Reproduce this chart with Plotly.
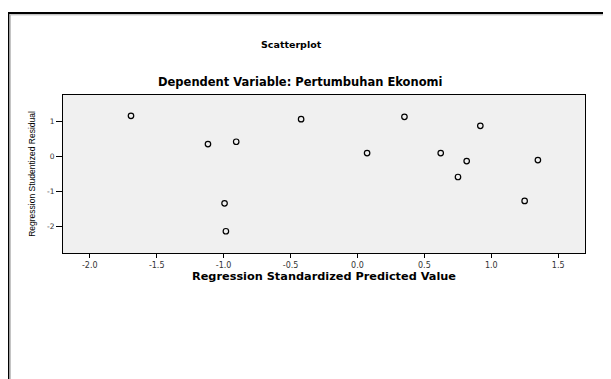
import plotly.graph_objects as go

predicted = [-1.692, -1.117, -0.906, -0.993, -0.983, -0.421, 0.351, 0.072, 0.622, 0.918, 0.816, 0.751, 1.348, 1.249]
residual = [1.156, 0.352, 0.418, -1.335, -2.13, 1.062, 1.128, 0.096, 0.096, 0.872, -0.131, -0.586, -0.103, -1.268]
x_ticks = [-2.0, -1.5, -1.0, -0.5, 0.0, 0.5, 1.0, 1.5]
y_ticks = [-2, -1, 0, 1]

W, H = 611, 379
OFF = 8  # page body margin offset
L, R, T, B = 63 - OFF, 585 - OFF, 95 - OFF, 253 - OFF

def px_x(p):
    return (p - OFF - L) / (R - L)

def px_y(p):
    return (B - (p - OFF)) / (B - T)

fig = go.Figure(go.Scatter(
    x=predicted, y=residual, mode="markers",
    marker=dict(symbol="circle-open", size=5.5, color="black", line=dict(width=1.2, color="black")),
    showlegend=False, hoverinfo="x+y",
))

wide = "DejaVu Sans, Verdana, sans-serif"
narrow = "Liberation Sans Narrow, Arial Narrow, sans-serif"

fig.update_layout(
    width=W, height=H,
    margin=dict(l=L, r=W - R, t=T, b=H - B),
    paper_bgcolor="white", plot_bgcolor="#f0f0f0",
    font=dict(family=wide, color="black"),
    xaxis=dict(range=[-2.2, 1.7], tickvals=x_ticks, ticktext=["%.1f" % v for v in x_ticks],
               ticks="outside", ticklen=4, tickwidth=1, tickcolor="black",
               tickfont=dict(size=8, color="#333", family=wide), showgrid=False, zeroline=False,
               showline=True, linecolor="black", linewidth=1, mirror=True,
               title=dict(text="<b>Regression Standardized Predicted Value</b>",
                          font=dict(size=11.3, family=wide), standoff=0)),
    yaxis=dict(range=[-2.75, 1.75], tickvals=y_ticks, ticktext=[str(v) for v in y_ticks],
               ticks="outside", ticklen=6, tickwidth=1, tickcolor="black",
               tickfont=dict(size=7.5, color="#333", family=wide), showgrid=False, zeroline=False,
               showline=True, linecolor="black", linewidth=1, mirror=True,
               title=dict(text="Regression Studentized Residual",
                          font=dict(size=8.5, family=narrow), standoff=10)),
    annotations=[
        dict(text="<b>Scatterplot</b>", x=px_x(291), y=px_y(44), xref="paper", yref="paper",
             showarrow=False, font=dict(size=9.5, family=wide), xanchor="center", yanchor="middle"),
        dict(text="<b>Dependent Variable: Pertumbuhan Ekonomi</b>", x=px_x(300), y=px_y(82),
             xref="paper", yref="paper", showarrow=False, font=dict(size=11.5, family=wide),
             xanchor="center", yanchor="middle"),
    ],
    shapes=[
        dict(type="line", xref="paper", yref="paper", x0=px_x(8.5), x1=px_x(8.5), y0=px_y(13), y1=px_y(400),
             line=dict(color="black", width=1.8)),
        dict(type="line", xref="paper", yref="paper", x0=px_x(8), x1=px_x(640), y0=px_y(13), y1=px_y(13),
             line=dict(color="black", width=1.8)),
        dict(type="line", xref="paper", yref="paper", x0=px_x(10.2), x1=px_x(10.2), y0=px_y(14.8), y1=px_y(400),
             line=dict(color="#aaaaaa", width=1)),
        dict(type="line", xref="paper", yref="paper", x0=px_x(10.2), x1=px_x(640), y0=px_y(14.8), y1=px_y(14.8),
             line=dict(color="#aaaaaa", width=1)),
    ],
)

fig.write_html("out.html")
